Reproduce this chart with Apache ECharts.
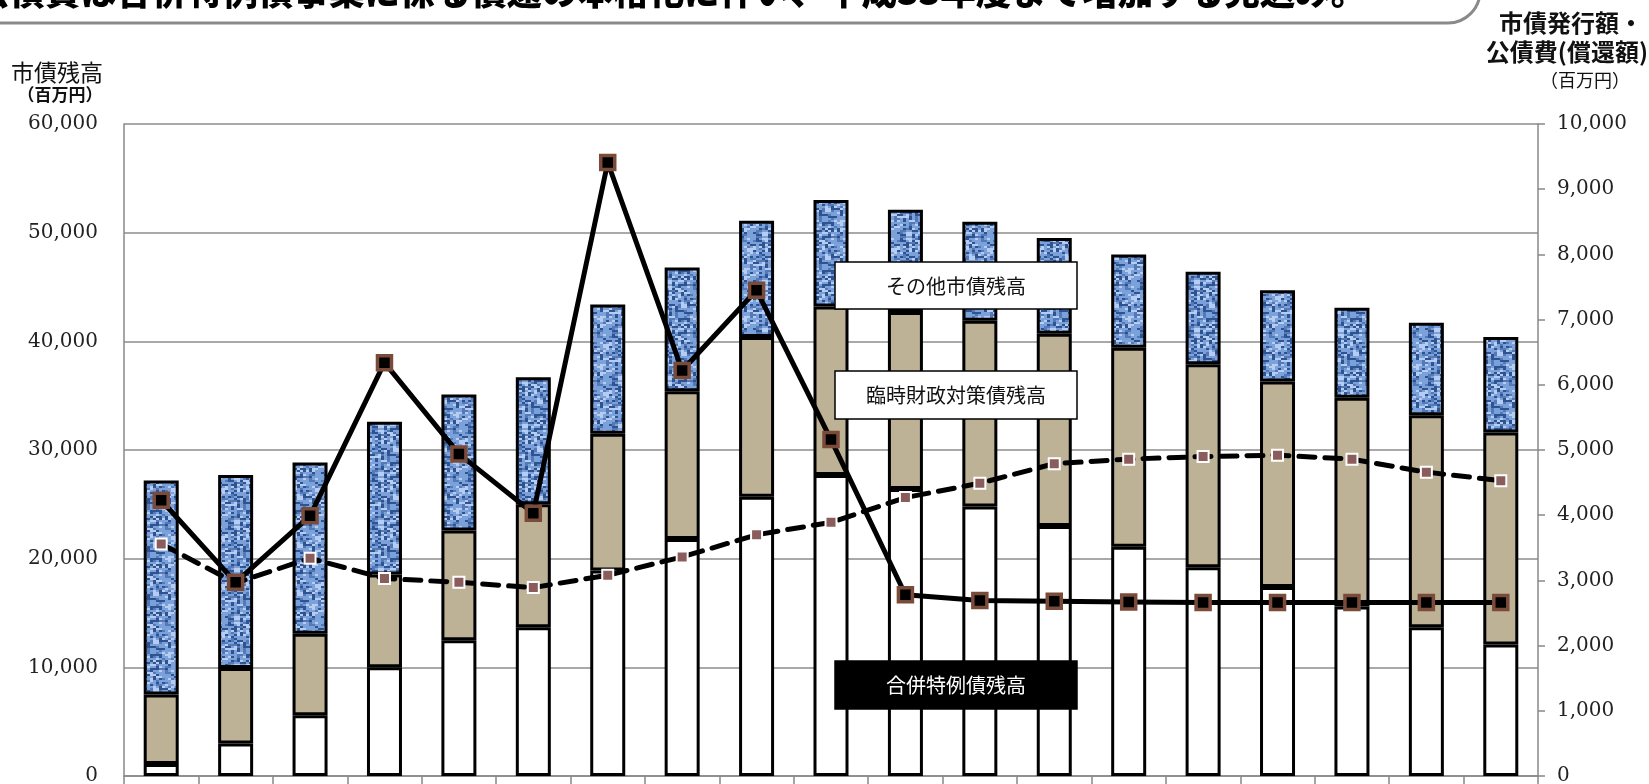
<!DOCTYPE html>
<html lang="ja">
<head>
<meta charset="UTF-8" />
<title>市債残高・市債発行額・公債費</title>
<script type="text/javascript" src="https://cdn.jsdelivr.net/npm/echarts/dist/echarts.min.js"></script>
<style>
  html, body { margin: 0; padding: 0; background: #fff; }
  #main { width: 1649px; height: 784px; }
</style>
</head>
<body>
<div id="main"></div>
<script type="text/javascript">
    // 年度（グラフ下端で切れている）
    var years = ['H18', 'H19', 'H20', 'H21', 'H22', 'H23', 'H24', 'H25', 'H26', 'H27',
                 'H28', 'H29', 'H30', 'H31', 'H32', 'H33', 'H34', 'H35', 'H36'];

    // 市債残高の内訳（百万円）
    var gappei = [1100, 3000, 5600, 10000, 12500, 13700, 18900, 21800, 25700, 27700,
                  26400, 24800, 23000, 21100, 19200, 17400, 15600, 13700, 12100];
    var rinji = [6400, 6950, 7500, 8550, 10100, 11300, 12600, 13600, 14700, 15500,
                 16300, 17100, 17700, 18300, 18700, 18900, 19200, 19500, 19500];
    var sonota = [19700, 17750, 15750, 14050, 12500, 11700, 11900, 11400, 10700, 9800,
                  9400, 9100, 8800, 8600, 8500, 8400, 8300, 8500, 8800];

    // 右軸（百万円）
    var hakko = [4230, 2970, 3990, 6340, 4940, 4030, 9410, 6220, 7450, 5160,
                 2780, 2690, 2680, 2670, 2660, 2660, 2660, 2660, 2660];
    var kousaihi = [3560, 2960, 3340, 3030, 2970, 2890, 3080, 3360, 3700, 3890,
                    4270, 4490, 4790, 4860, 4900, 4920, 4860, 4660, 4530];

    var leftTicks = [0, 10000, 20000, 30000, 40000, 50000, 60000];
    var rightTicks = [0, 1000, 2000, 3000, 4000, 5000, 6000, 7000, 8000, 9000, 10000];

    // 青い布目模様（固定のハッシュで描く）
    function makeTexture() {
        var c = document.createElement('canvas');
        c.width = 48; c.height = 48;
        var g = c.getContext('2d');
        g.fillStyle = '#7ba1da';
        g.fillRect(0, 0, 48, 48);
        for (var y = 0; y < 48; y += 2) {
            for (var x = 0; x < 48; x += 3) {
                var h = Math.imul(x, 374761393) + Math.imul(y, 668265263);
                h = Math.imul(h ^ (h >>> 13), 1274126177);
                h = (h ^ (h >>> 16)) & 255;
                if (h < 70) { g.fillStyle = '#2f5391'; g.fillRect(x, y, 3, 2); }
                else if (h < 110) { g.fillStyle = '#5479b8'; g.fillRect(x, y, 3, 2); }
                else if (h > 215) { g.fillStyle = '#b6cdf1'; g.fillRect(x, y, 3, 2); }
            }
        }
        return c;
    }

    function fmt(v) { return v.toLocaleString('en-US'); }

    var myChart = echarts.init(document.getElementById('main'));
    var tickFont = { fontFamily: 'DejaVu Serif', fontSize: 20, color: '#222' };
    var barBorder = { borderColor: '#000', borderWidth: 3 };

    var options = {
        animation: false,
        grid: { left: 124, right: 111, top: 124, bottom: 8, outerBoundsMode: 'none' },
        xAxis: {
            type: 'category',
            data: years,
            boundaryGap: true,
            axisLine: { lineStyle: { color: '#888', width: 1.5 } },
            axisTick: { show: true, length: 8, lineStyle: { color: '#888', width: 1.5 } },
            axisLabel: { show: false }
        },
        yAxis: [{
            type: 'value',
            min: leftTicks[0],
            max: leftTicks[leftTicks.length - 1],
            interval: 10000,
            axisLine: { show: true, lineStyle: { color: '#888', width: 1.5 } },
            axisTick: { show: false },
            splitLine: { lineStyle: { color: '#8c8c8c', width: 1.5 } },
            axisLabel: Object.assign({ margin: 26, formatter: fmt }, tickFont)
        }, {
            type: 'value',
            position: 'right',
            min: rightTicks[0],
            max: rightTicks[rightTicks.length - 1],
            interval: 1000,
            axisLine: { show: true, lineStyle: { color: '#888', width: 1.5 } },
            axisTick: { show: true, inside: false, length: 7, lineStyle: { color: '#888', width: 1.5 } },
            splitLine: { show: false },
            axisLabel: Object.assign({ margin: 19, formatter: fmt }, tickFont)
        }],
        series: [{
            name: '合併特例債残高',
            type: 'bar',
            stack: 'zan',
            barWidth: 35,
            data: gappei,
            itemStyle: Object.assign({ color: '#fff' }, barBorder)
        }, {
            name: '臨時財政対策債残高',
            type: 'bar',
            stack: 'zan',
            data: rinji,
            itemStyle: Object.assign({ color: '#beb296' }, barBorder)
        }, {
            name: 'その他市債残高',
            type: 'bar',
            stack: 'zan',
            data: sonota,
            itemStyle: Object.assign({ color: { image: makeTexture(), repeat: 'repeat' } }, barBorder)
        }, {
            name: '公債費',
            type: 'line',
            yAxisIndex: 1,
            data: kousaihi,
            symbol: 'rect',
            symbolSize: 11,
            lineStyle: { color: '#000', width: 5, type: [16, 10], cap: 'round' },
            itemStyle: { color: '#8b5c5c', borderColor: '#fff', borderWidth: 2 },
            z: 5
        }, {
            name: '市債発行額',
            type: 'line',
            yAxisIndex: 1,
            data: hakko,
            symbol: 'rect',
            symbolSize: 14,
            lineStyle: { color: '#000', width: 5 },
            itemStyle: { color: '#000', borderColor: '#7b4b3a', borderWidth: 3.5 },
            z: 6
        }],
        graphic: [
            // 上部の見出し枠（上側で切れている）
            { type: 'rect', shape: { x: -30, y: -60, width: 1510, height: 83, r: 32 },
              style: { fill: 'none', stroke: '#8a8a8a', lineWidth: 3 }, z: 10 },
            { type: 'text', x: -26, y: -8,
              style: { text: '公債費は合併特例債事業に係る償還の本格化に伴い、平成33年度まで増加する見込み。',
                       font: '900 35.5px "Noto Sans CJK JP"', fill: '#000', textVerticalAlign: 'middle' }, z: 10 },
            // 左軸タイトル
            { type: 'text', x: 57, y: 72,
              style: { text: '市債残高', font: '23px "Noto Sans CJK JP"', fill: '#111',
                       textAlign: 'center', textVerticalAlign: 'middle' } },
            { type: 'text', x: 60, y: 95,
              style: { text: '（百万円）', font: 'bold 17px "Noto Sans CJK JP"', fill: '#111',
                       textAlign: 'center', textVerticalAlign: 'middle' } },
            // 右軸タイトル
            { type: 'text', x: 1643, y: 23,
              style: { text: '市債発行額・', font: 'bold 24px "Noto Sans CJK JP"', fill: '#111',
                       textAlign: 'right', textVerticalAlign: 'middle' } },
            { type: 'text', x: 1648, y: 52,
              style: { text: '公債費(償還額)', font: 'bold 24px "Noto Sans CJK JP"', fill: '#111',
                       textAlign: 'right', textVerticalAlign: 'middle' } },
            { type: 'text', x: 1630, y: 80,
              style: { text: '（百万円）', font: '18px "Noto Sans CJK JP"', fill: '#111',
                       textAlign: 'right', textVerticalAlign: 'middle' } },
            // 凡例代わりの注記
            { type: 'rect', shape: { x: 835, y: 262, width: 242, height: 47 },
              style: { fill: '#fff', stroke: '#000', lineWidth: 1.5 }, z: 20 },
            { type: 'text', x: 956, y: 286, z: 21,
              style: { text: 'その他市債残高', font: '20px "Noto Sans CJK JP"', fill: '#111',
                       textAlign: 'center', textVerticalAlign: 'middle' } },
            { type: 'rect', shape: { x: 835, y: 371, width: 242, height: 48 },
              style: { fill: '#fff', stroke: '#000', lineWidth: 1.5 }, z: 20 },
            { type: 'text', x: 956, y: 395, z: 21,
              style: { text: '臨時財政対策債残高', font: '20px "Noto Sans CJK JP"', fill: '#111',
                       textAlign: 'center', textVerticalAlign: 'middle' } },
            { type: 'rect', shape: { x: 835, y: 661, width: 242, height: 48 },
              style: { fill: '#000', stroke: '#000', lineWidth: 1.5 }, z: 20 },
            { type: 'text', x: 956, y: 685, z: 21,
              style: { text: '合併特例債残高', font: '20px "Noto Sans CJK JP"', fill: '#fff',
                       textAlign: 'center', textVerticalAlign: 'middle' } }
        ]
    };
    myChart.setOption(options);
</script>
</body>
</html>
